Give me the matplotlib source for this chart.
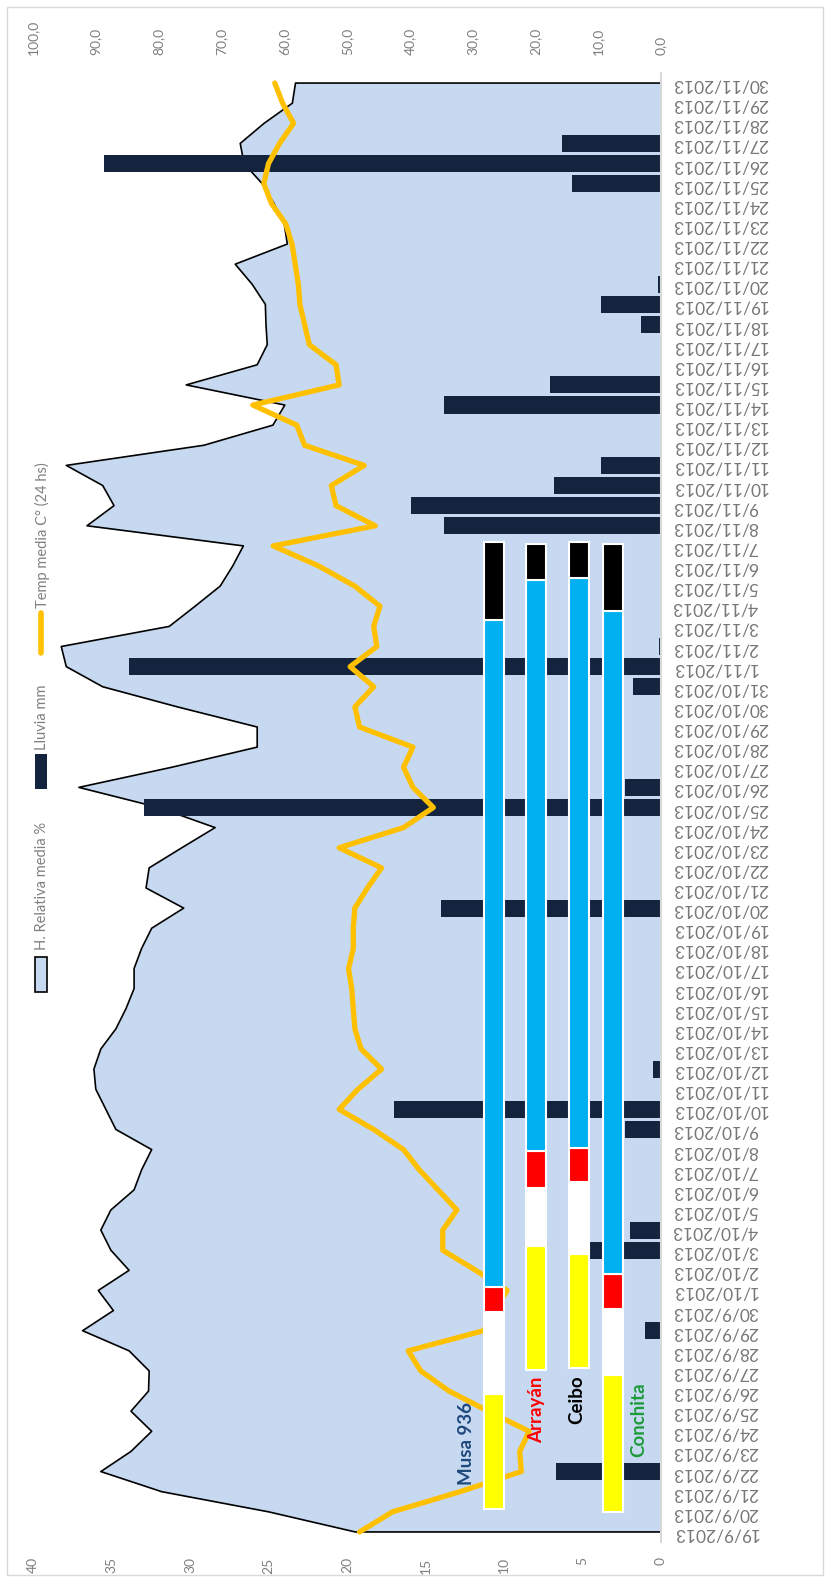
import numpy as np
import pandas as pd
import matplotlib
matplotlib.use('Agg')
import matplotlib.pyplot as plt
from matplotlib.patches import Rectangle
from matplotlib.lines import Line2D

plt.rcParams['font.family'] = ['Lato', 'DejaVu Sans']

# --- datos ---
fechas = pd.date_range('2013-09-19', '2013-11-30', freq='D')
etiquetas = [f"{d.day}/{d.month}/{d.year}" for d in fechas]

# Lluvia mm (por día)
lluvia = [0, 0, 0, 6.7, 0, 0, 0, 0, 0, 0, 1.0, 0,
          0, 0, 4.5, 2.0, 0, 0, 0, 0, 2.3, 17.0, 0, 0.5, 0, 0, 0, 0, 0, 0, 0,
          14.0, 0, 0, 0, 0, 32.9, 2.3, 0, 0, 0, 0, 1.8,
          33.9, 0.1, 0, 0, 0, 0, 0, 13.8, 15.9, 6.8, 3.8, 0, 0, 13.8, 7.1,
          0, 0, 1.3, 3.8, 0.2, 0, 0, 0, 0, 5.7, 35.5, 6.3, 0, 0, 0]

# Temp media C° (24 hs)
temp = [19.2, 17.1, 12.8, 8.9, 9.0, 8.4, 11.0, 13.5, 15.3, 16.1, 11.3, 10.6,
        9.8, 11.8, 13.9, 13.9, 13.0, 14.2, 15.4, 16.4, 18.3, 20.5, 19.3, 17.8,
        19.1, 19.5, 19.6, 19.7, 19.9, 19.6, 19.6, 19.5, 18.7, 17.8, 20.5, 16.4,
        14.5, 15.8, 16.4, 15.8, 19.2, 19.5, 18.3,
        19.8, 18.1, 18.3, 17.9, 19.5, 21.8, 24.7, 18.2, 20.7, 21.0, 18.9, 22.7,
        23.2, 26.0, 20.5, 20.7, 22.4, 22.7, 23.0, 23.1, 23.3, 23.5, 23.9, 24.8,
        25.3, 25.0, 24.3, 23.4, 24.1, 24.6]

# H. Relativa media %
humedad = [48.7, 62.5, 79.5, 89.2, 84.4, 81.1, 84.4, 81.6, 81.5, 84.7, 92.1, 87.2,
           89.6, 84.7, 87.6, 89.2, 87.6, 83.9, 82.7, 81.1, 86.8, 88.4, 90.0, 90.3,
           89.2, 86.8, 85.2, 83.9, 83.9, 82.7, 81.1, 76.0, 82.0, 81.5, 76.3, 71.0,
           80.0, 92.7, 77.9, 64.3, 64.3, 77.0, 88.9,
           94.7, 95.5, 78.3, 74.2, 70.2, 68.2, 66.5, 91.4, 87.1, 88.9, 94.7, 72.8,
           61.8, 59.9, 75.6, 64.3, 62.7, 62.9, 63.0, 65.1, 67.8, 59.5, 60.0, 61.6,
           63.5, 66.4, 67.0, 63.2, 58.7, 58.2]

# Fases fenológicas por variedad (límites en días desde 19/9)
variedades = ['Musa 936', 'Arrayán', 'Ceibo', 'Conchita']
fases_musa = [1.14, 6.86, 10.93, 12.17, 45.3, 49.2]
fases_arrayan = [8.05, 14.2, 17.1, 18.95, 47.3, 49.1]
fases_ceibo = [8.15, 13.8, 17.4, 19.1, 47.4, 49.2]
fases_conchita = [1.0, 7.8, 11.1, 12.8, 45.75, 49.1]
colores_fase = ['#FFFF00', '#FFFFFF', '#FF0000', '#00B0F0', '#000000']

# --- diseño ---
W, H = 830, 1582
GRIS = '#808080'
fila_x = {'Musa 936': 10.63, 'Arrayán': 7.95, 'Ceibo': 5.25, 'Conchita': 3.05}
texto_var = {'Musa 936': (12.4, 4.4, '#1F497D'), 'Arrayán': (7.9, 6.06, '#FF0000'),
             'Ceibo': (5.35, 6.56, '#000000'), 'Conchita': (1.4, 5.6, '#1E9B3A')}


def px(x, y):
    """pixeles -> coordenadas de figura"""
    return x / W, 1 - y / H


fig = plt.figure(figsize=(W / 100, H / 100), dpi=100)
ax = fig.add_axes([33 / W, 40 / H, 628 / W, 1469 / H])
ax2 = ax.twiny()
ax.set_zorder(ax2.get_zorder() + 1)
ax.patch.set_visible(False)

y = np.arange(len(etiquetas))

# humedad (eje secundario)
ax2.fill_betweenx(y, 0, humedad, color='#C6D9F1', lw=0)
ax2.plot([0] + humedad + [0], [y[0]] + list(y) + [y[-1]], color='black', lw=1.2)
ax2.set_xlim(100, 0)

# lluvia y temperatura
ax.barh(y, lluvia, height=0.85, color='#14243F')
ax.plot(temp, y, color='#FFC000', lw=3.8, solid_joinstyle='round', solid_capstyle='round')

# barras de fases
fases = {'Musa 936': fases_musa, 'Arrayán': fases_arrayan,
         'Ceibo': fases_ceibo, 'Conchita': fases_conchita}
for nombre in variedades:
    lim = fases[nombre]
    for k in range(len(lim) - 1):
        ax.bar(fila_x[nombre], lim[k + 1] - lim[k], bottom=lim[k], width=1.27,
               color=colores_fase[k], edgecolor='white', lw=1.5, zorder=4)
    tx, ty, col = texto_var[nombre]
    ax.text(tx, ty, nombre, rotation=90, ha='center', va='center', color=col,
            fontsize=13.5, fontweight='bold', zorder=5)

ax.set_xlim(40, 0)
ax.set_ylim(-0.5, 72.5)

ax.set_xticks(range(0, 41, 5))
ax.set_xticklabels([str(v) for v in range(0, 41, 5)])
ax.tick_params(axis='x', length=0, pad=11, labelrotation=90, labelcolor=GRIS, labelsize=10)

ax2.set_xticks(range(0, 101, 10))
ax2.set_xticklabels([f"{v:.1f}".replace('.', ',') for v in range(0, 101, 10)])
ax2.tick_params(axis='x', length=0, pad=13, labelrotation=90, labelcolor=GRIS, labelsize=10)

ax.yaxis.tick_right()
ax.set_yticks(y)
ax.set_yticklabels(etiquetas, rotation=180)
ax.tick_params(axis='y', length=0, pad=8, labelcolor='#767676', labelsize=12.5)

for a in (ax, ax2):
    for s in a.spines.values():
        s.set_visible(False)
ax.spines['right'].set_visible(True)
ax.spines['right'].set_color('#D9D9D9')
ax.spines['right'].set_linewidth(1.5)

# leyenda (girada)
x0, y0 = px(35, 992)
fig.add_artist(Rectangle((x0, y0), 12 / W, 35 / H, facecolor='#C6D9F1',
                         edgecolor='black', lw=1.2, transform=fig.transFigure))
fig.text(*px(42, 950), 'H. Relativa media %', rotation=90, ha='center', va='bottom',
         color=GRIS, fontsize=10.5)
x0, y0 = px(35, 789)
fig.add_artist(Rectangle((x0, y0), 12 / W, 35 / H, facecolor='#14243F',
                         edgecolor='none', transform=fig.transFigure))
fig.text(*px(42, 750), 'Lluvia mm', rotation=90, ha='center', va='bottom',
         color=GRIS, fontsize=10.5)
xa, ya = px(41, 653)
xb, yb = px(41, 613)
fig.add_artist(Line2D([xa, xb], [ya, yb], color='#FFC000', lw=4,
                      solid_capstyle='round', transform=fig.transFigure))
fig.text(*px(42, 608), 'Temp media C° (24 hs)', rotation=90, ha='center', va='bottom',
         color=GRIS, fontsize=10.5)

# borde del gráfico
fig.add_artist(Rectangle(px(7, 1575), 816 / W, 1568 / H, fill=False,
                         edgecolor='#D9D9D9', lw=1, transform=fig.transFigure))

fig.savefig('out.png', dpi=100)
